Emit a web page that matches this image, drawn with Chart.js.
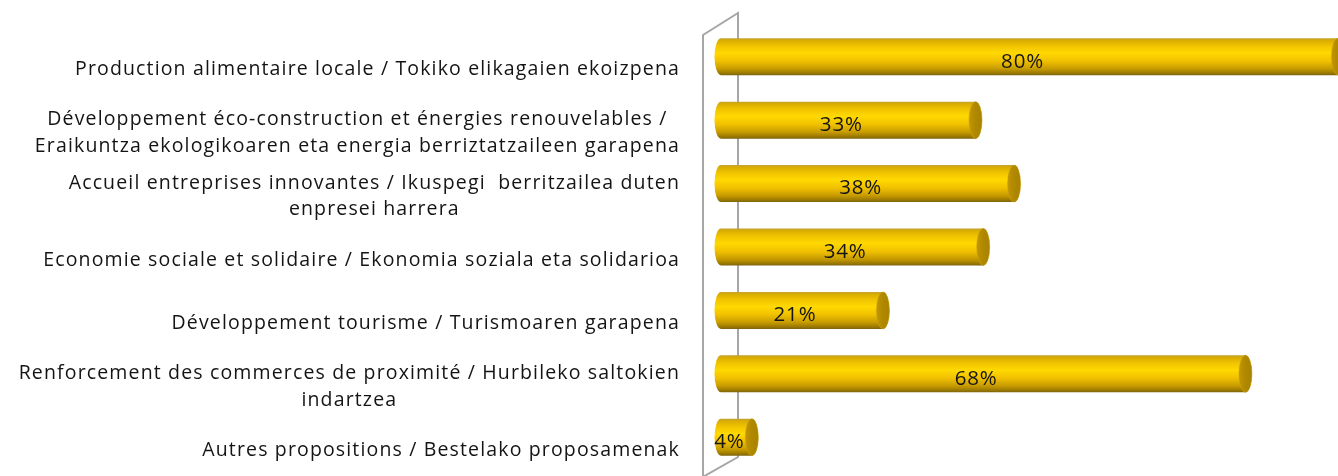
<!DOCTYPE html>
<html>
<head>
<meta charset="utf-8">
<script src="https://cdn.jsdelivr.net/npm/chart.js@4/dist/chart.umd.min.js"></script>
<style>
  html, body { margin: 0; padding: 0; background: #fff; }
  #wrap { width: 1338px; height: 476px; position: relative; }
</style>
</head>
<body>
<div id="wrap"><canvas id="c"></canvas></div>
<script>
// ---- data ----
const categories = [
  ["Production alimentaire locale / Tokiko elikagaien ekoizpena"],
  ["Développement éco-construction et énergies renouvelables / ", "Eraikuntza ekologikoaren eta energia berriztatzaileen garapena"],
  ["Accueil entreprises innovantes / Ikuspegi  berritzailea duten", "enpresei harrera"],
  ["Economie sociale et solidaire / Ekonomia soziala eta solidarioa"],
  ["Développement tourisme / Turismoaren garapena"],
  ["Renforcement des commerces de proximité / Hurbileko saltokien", "indartzea"],
  ["Autres propositions / Bestelako proposamenak"]
];
const values = [80, 33, 38, 34, 21, 68, 4];
const valueLabels = ["80%", "33%", "38%", "34%", "21%", "68%", "4%"];

const FONT = "'Open Sans'";

const cylinderPlugin = {
  id: 'cylinders',
  beforeDatasetsDraw(chart) {
    const ctx = chart.ctx;
    const a = chart.chartArea;
    // 3D side wall
    ctx.save();
    ctx.strokeStyle = '#a6a6a6';
    ctx.lineWidth = 2;
    const fx = a.left - 18, bx = a.left + 17;
    ctx.beginPath();
    ctx.moveTo(fx, chart.height + 2);
    ctx.lineTo(fx, a.top + 10);
    ctx.lineTo(bx, a.top - 12);
    ctx.lineTo(bx, a.bottom - 12);
    ctx.lineTo(fx - 2, a.bottom + 9);
    ctx.stroke();
    ctx.restore();
  },
  afterDatasetsDraw(chart) {
    const ctx = chart.ctx;
    const meta = chart.getDatasetMeta(0);
    meta.data.forEach((bar, i) => {
      const xb = bar.base, xv = bar.x;
      const h = bar.height;
      const yc = bar.y;
      const top = yc - h / 2, bot = yc + h / 2;
      const rx = 6.5;
      const g = ctx.createLinearGradient(0, top, 0, bot);
      g.addColorStop(0, '#c2a232');
      g.addColorStop(0.06, '#d9ad00');
      g.addColorStop(0.22, '#f2c500');
      g.addColorStop(0.40, '#ffd900');
      g.addColorStop(0.62, '#f0c000');
      g.addColorStop(0.82, '#c89c00');
      g.addColorStop(0.94, '#9c7a00');
      g.addColorStop(1, '#7d6410');
      ctx.save();
      ctx.beginPath();
      ctx.moveTo(xv, top);
      ctx.lineTo(xb, top);
      ctx.ellipse(xb, yc, rx, h / 2, 0, -Math.PI / 2, Math.PI / 2, true);
      ctx.lineTo(xv, bot);
      ctx.ellipse(xv, yc, rx, h / 2, 0, Math.PI / 2, -Math.PI / 2, true);
      ctx.closePath();
      ctx.fillStyle = g;
      ctx.fill();
      // cap
      const cg = ctx.createLinearGradient(xv - rx, 0, xv + rx, 0);
      cg.addColorStop(0, '#c29600');
      cg.addColorStop(0.5, '#b08800');
      cg.addColorStop(1, '#a88300');
      ctx.beginPath();
      ctx.ellipse(xv, yc, rx, h / 2, 0, 0, Math.PI * 2);
      ctx.fillStyle = cg;
      ctx.fill();
      ctx.strokeStyle = 'rgba(200,160,20,0.7)';
      ctx.lineWidth = 0.8;
      ctx.stroke();
      // value label
      ctx.fillStyle = '#141414';
      ctx.font = '20.5px ' + FONT;
      if ('letterSpacing' in ctx) ctx.letterSpacing = '0.8px';
      ctx.textAlign = 'center';
      ctx.textBaseline = 'middle';
      ctx.fillText(valueLabels[i], (xb + xv) / 2 - 7, yc + 5);
      ctx.restore();
    });
    // category labels
    const ys = chart.scales.y;
    ctx.save();
    ctx.font = '19.5px ' + FONT;
    if ('letterSpacing' in ctx) ctx.letterSpacing = '1.15px';
    ctx.fillStyle = '#141414';
    ctx.textBaseline = 'middle';
    ctx.textAlign = 'center';
    const right = chart.chartArea.left - 41;
    const lh = 26.5;
    categories.forEach((lines, i) => {
      const yc = ys.getPixelForValue(i) + 13;
      const w = Math.max(...lines.map(l => ctx.measureText(l.trimEnd()).width));
      const cx = right - w / 2;
      const y0 = yc - (lines.length - 1) * lh / 2;
      lines.forEach((l, j) => ctx.fillText(l.trimEnd(), cx, y0 + j * lh));
    });
    ctx.restore();
  }
};

new Chart(document.getElementById('c'), {
  type: 'bar',
  data: {
    labels: categories,
    datasets: [{
      data: values,
      backgroundColor: 'rgba(0,0,0,0)',
      borderWidth: 0,
      barPercentage: 0.583,
      categoryPercentage: 1
    }]
  },
  options: {
    indexAxis: 'y',
    responsive: true,
    maintainAspectRatio: false,
    animation: false,
    layout: { padding: { left: 721, right: 0, top: 25, bottom: 7 } },
    plugins: { legend: { display: false }, tooltip: { enabled: false } },
    scales: {
      x: { display: false, min: 0, max: 80 },
      y: { display: false }
    }
  },
  plugins: [cylinderPlugin]
});
</script>
</body>
</html>
